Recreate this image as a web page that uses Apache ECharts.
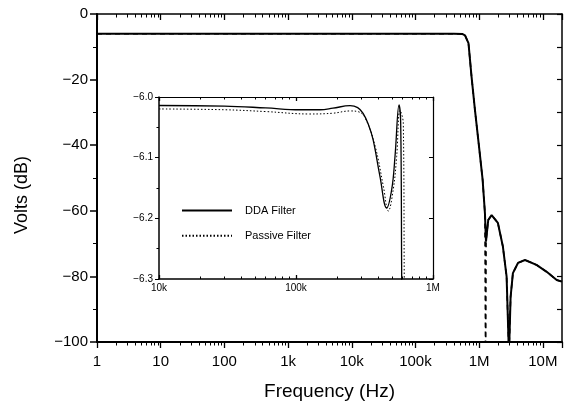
<!DOCTYPE html>
<html><head><meta charset="utf-8">
<script src="https://cdn.jsdelivr.net/npm/echarts@6/dist/echarts.min.js"></script>
<style>html,body{margin:0;padding:0;background:#fff}#c{width:565px;height:409px}</style>
</head><body><div id="c"></div>
<script>
// ---- data ----
const xTickLabels = {1:'1',10:'10',100:'100',1000:'1k',10000:'10k',100000:'100k',1000000:'1M',10000000:'10M'};
const insetTickLabels = {10000:'10k',100000:'100k',1000000:'1M'};
const mainDDAFreq = [1,10,100,1e3,1e4,1e5,4e5,5.5e5,6.0e5,6.8e5,7.6e5,8.6e5,9.9e5,1.135e6,1.233e6,1.28e6,1.39e6,1.57e6,1.97e6,2.36e6,2.7e6,2.94e6,3.12e6,3.39e6,4.07e6,5.25e6,7.95e6,1.15e7,1.65e7,2e7];
const mainDDAdB   = [-6,-6,-6,-6,-6,-6,-6,-6.1,-6.5,-8.9,-19.1,-29.3,-40,-50.6,-60.7,-69.4,-62.8,-61.3,-63.7,-70.9,-80.1,-104,-86.2,-79,-75.9,-75,-76.5,-78.6,-81.1,-81.6];
const mainPasFreq = [1,10,100,1e3,1e4,1e5,4e5,5.5e5,6.0e5,6.8e5,7.6e5,8.6e5,9.9e5,1.135e6,1.233e6,1.265e6,1.285e6,1.39e6,1.57e6,1.97e6,2.36e6,2.7e6,2.94e6,3.12e6,3.39e6,4.07e6,5.25e6,7.95e6,1.15e7,1.65e7,2e7];
const mainPasdB   = [-6,-6,-6,-6,-6,-6,-6,-6.1,-6.5,-8.9,-19.1,-29.3,-40,-50.6,-60.7,-110,-69,-62.8,-61.3,-63.7,-70.9,-80.1,-104,-86.2,-79,-75.9,-75,-76.5,-78.6,-81.1,-81.6];
const insetDDAFreq = [1e4,3e4,6e4,1.07e5,1.5e5,1.86e5,2.48e5,2.82e5,3.09e5,3.37e5,3.65e5,4.1e5,4.59e5,5.0e5,5.28e5,5.65e5,5.81e5,5.91e5,5.95e5];
const insetDDAdB   = [-6.014,-6.015,-6.018,-6.021,-6.021,-6.0185,-6.0143,-6.0175,-6.027,-6.045,-6.07,-6.131,-6.183,-6.152,-6.098,-6.013,-6.043,-6.30,-6.36];
const insetPasFreq = [1e4,3e4,6e4,1.26e5,1.86e5,2.48e5,2.82e5,3.19e5,3.78e5,4.34e5,4.72e5,5.13e5,5.43e5,5.74e5,6.07e5,6.17e5,6.2e5];
const insetPasdB   = [-6.0197,-6.021,-6.024,-6.028,-6.0267,-6.023,-6.024,-6.034,-6.081,-6.147,-6.188,-6.152,-6.098,-6.022,-6.043,-6.30,-6.36];

const pair = (xs, ys) => xs.map((x, i) => [x, ys[i]]);
const minus = s => String(s).replace('-', '\u2212');
const FONT = 'Liberation Sans';
const blk = '#000';

const chart = echarts.init(document.getElementById('c'), null, {renderer: 'canvas'});

function logX(grid, min, max, pos, inside, len, minorLen, lineW, opts) {
  return Object.assign({type: 'log', gridIndex: grid, min: min, max: max, position: pos,
    splitLine: {show: false}, minorSplitLine: {show: false}, axisLabel: {show: false},
    axisLine: {show: true, onZero: false, lineStyle: {color: blk, width: lineW}},
    axisTick: {show: true, inside: inside, length: len, lineStyle: {color: blk, width: 1.3}},
    minorTick: {show: true, splitNumber: 9, length: minorLen, lineStyle: {color: blk, width: 1}}}, opts);
}

const option = {
  backgroundColor: '#fff',
  animation: false,
  textStyle: {fontFamily: FONT, color: blk},
  grid: [
    {left: 97, right: 3, top: 14, bottom: 67},
    {left: 159, right: 132, top: 97, bottom: 130}
  ],
  legend: {
    data: ['DDA Filter', 'Passive Filter'],
    orient: 'vertical', left: 176, top: 200,
    itemWidth: 50, itemHeight: 14, itemGap: 14,
    itemStyle: {opacity: 0},
    textStyle: {fontSize: 11, color: blk, fontFamily: FONT, padding: [0, 0, 0, 8]}
  },
  graphic: [
    {type: 'text', x: 22, y: 195, rotation: Math.PI / 2,
     style: {text: 'Volts (dB)', font: '18px "Liberation Sans"', fill: blk, textAlign: 'center', textVerticalAlign: 'middle'}}
  ],
  xAxis: [
    logX(0, 1, 2e7, 'bottom', false, 6, 3.5, 2, {
      axisLabel: {show: true, fontSize: 15, color: blk, margin: 12, showMaxLabel: false,
        formatter: v => xTickLabels[Math.round(v)] || ''},
      name: 'Frequency (Hz)', nameLocation: 'middle', nameGap: 40,
      nameTextStyle: {fontSize: 19, color: blk, fontFamily: FONT}}),
    logX(0, 1, 2e7, 'top', true, 6, 3.5, 1.5, {}),
    logX(1, 1e4, 1e6, 'bottom', true, 4, 2.5, 1.5, {
      axisLabel: {show: true, fontSize: 10, color: blk, margin: 4,
        formatter: v => insetTickLabels[Math.round(v)] || ''}}),
    logX(1, 1e4, 1e6, 'top', true, 4, 2.5, 1.2, {})
  ],
  yAxis: [
    {type: 'value', gridIndex: 0, min: -100, max: 0, interval: 20, position: 'left',
     axisLine: {show: true, onZero: false, lineStyle: {color: blk, width: 2}},
     axisTick: {show: true, inside: false, length: 7, lineStyle: {color: blk, width: 1.5}},
     minorTick: {show: true, splitNumber: 2, length: 4, lineStyle: {color: blk}},
     splitLine: {show: false},
     axisLabel: {fontSize: 15, color: blk, margin: 9, formatter: v => minus(v)}},
    {type: 'value', gridIndex: 0, min: -100, max: 0, interval: 10, position: 'right',
     axisLine: {show: true, onZero: false, lineStyle: {color: blk, width: 1.5}},
     axisTick: {show: true, inside: true, length: 5, lineStyle: {color: blk, width: 1.2}},
     splitLine: {show: false}, axisLabel: {show: false}},
    {type: 'value', gridIndex: 1, min: -6.3, max: -6.0, interval: 0.1, position: 'left',
     axisLine: {show: true, onZero: false, lineStyle: {color: blk, width: 1.5}},
     axisTick: {show: true, inside: false, length: 4, lineStyle: {color: blk}},
     minorTick: {show: true, splitNumber: 2, length: 2.5, lineStyle: {color: blk}},
     splitLine: {show: false},
     axisLabel: {fontSize: 10, color: blk, margin: 6, formatter: v => minus(v.toFixed(1))}},
    {type: 'value', gridIndex: 1, min: -6.3, max: -6.0, interval: 0.1, position: 'right',
     axisLine: {show: true, onZero: false, lineStyle: {color: blk, width: 1.2}},
     axisTick: {show: true, inside: true, length: 4, lineStyle: {color: blk}},
     splitLine: {show: false}, axisLabel: {show: false}}
  ],
  series: [
    {name: 'DDA main', type: 'line', xAxisIndex: 0, yAxisIndex: 0, data: pair(mainDDAFreq, mainDDAdB),
     symbol: 'none', clip: true, lineStyle: {color: blk, width: 2}, z: 3},
    {name: 'Passive main', type: 'line', xAxisIndex: 0, yAxisIndex: 0, data: pair(mainPasFreq, mainPasdB),
     symbol: 'none', clip: true, lineStyle: {color: blk, width: 1.6, type: [5, 4]}, z: 4},
    {name: 'DDA Filter', type: 'line', xAxisIndex: 2, yAxisIndex: 2, data: pair(insetDDAFreq, insetDDAdB),
     symbol: 'none', clip: true, smooth: 0.4, lineStyle: {color: blk, width: 1.3}, itemStyle: {color: blk}, z: 5},
    {name: 'Passive Filter', type: 'line', xAxisIndex: 2, yAxisIndex: 2, data: pair(insetPasFreq, insetPasdB),
     symbol: 'none', clip: true, smooth: 0.4, lineStyle: {color: blk, width: 1, type: [1.5, 2]}, itemStyle: {color: blk}, z: 5}
  ]
};
chart.setOption(option);
</script></body></html>
